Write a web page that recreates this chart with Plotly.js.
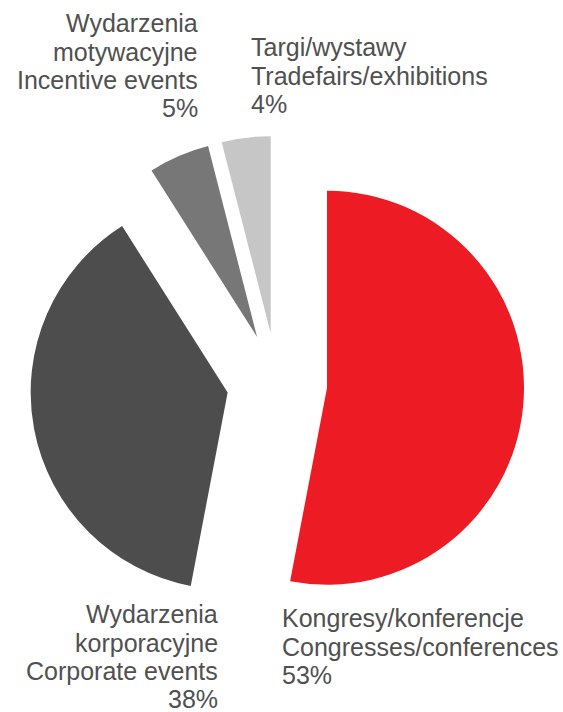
<!DOCTYPE html>
<html>
<head>
<meta charset="utf-8">
<script src="https://cdn.plot.ly/plotly-3.0.1.min.js"></script>
<style>html,body{margin:0;padding:0;background:#fff;}#chart{width:563px;height:712px;}</style>
</head>
<body>
<div id="chart"></div>
<script>
// Data
var categoriesPL = ["Kongresy/konferencje", "Wydarzenia korporacyjne", "Wydarzenia motywacyjne", "Targi/wystawy"];
var categoriesEN = ["Congresses/conferences", "Corporate events", "Incentive events", "Tradefairs/exhibitions"];
var values = [53, 38, 5, 4];
var sliceColors = ["#ED1C24", "#4D4D4D", "#777777", "#C6C6C6"];

// Label line splits (text only)
var labelLines = [
  ["Kongresy/konferencje", "Congresses/conferences"],
  ["Wydarzenia", "korporacyjne", "Corporate events"],
  ["Wydarzenia", "motywacyjne", "Incentive events"],
  ["Targi/wystawy", "Tradefairs/exhibitions"]
];

// Label placement (pixels): anchor x, first baseline y, alignment
var W = 563, H = 712;
var labelPos = [
  {x: 280, y: 627, anchor: "left"},
  {x: 220, y: 623, anchor: "right"},
  {x: 200, y: 32, anchor: "right"},
  {x: 249, y: 56, anchor: "left"}
];
var fontSize = 25, lineStep = 28.2, textColor = "#505050";

var annotations = [];
for (var i = 0; i < values.length; i++) {
  var lines = labelLines[i].concat([values[i] + "%"]);
  for (var j = 0; j < lines.length; j++) {
    var baseline = labelPos[i].y + j * lineStep;
    var mid = baseline - 0.3465 * fontSize;
    annotations.push({
      xref: "paper", yref: "paper",
      x: labelPos[i].x / W, y: 1 - mid / H,
      xanchor: labelPos[i].anchor, yanchor: "middle",
      text: lines[j], showarrow: false,
      font: {family: "Liberation Sans, Arial, sans-serif", size: fontSize, color: textColor}
    });
  }
}

// Pie geometry
var cx = 277, cy = 383, pullAmt = 0.255, radius = 197;
var half = radius * (1 + pullAmt);

var trace = {
  type: "pie",
  values: values,
  labels: categoriesEN,
  marker: {colors: sliceColors, line: {width: 0}},
  sort: false,
  direction: "clockwise",
  rotation: 0,
  pull: values.map(function(){ return pullAmt; }),
  textinfo: "none",
  hoverinfo: "label+percent",
  domain: {
    x: [(cx - half) / W, (cx + half) / W],
    y: [1 - (cy + half) / H, 1 - (cy - half) / H]
  }
};

var layout = {
  width: W, height: H,
  margin: {l: 0, r: 0, t: 0, b: 0},
  showlegend: false,
  paper_bgcolor: "#ffffff",
  annotations: annotations
};

Plotly.newPlot("chart", [trace], layout, {displayModeBar: false, staticPlot: true});
</script>
</body>
</html>
